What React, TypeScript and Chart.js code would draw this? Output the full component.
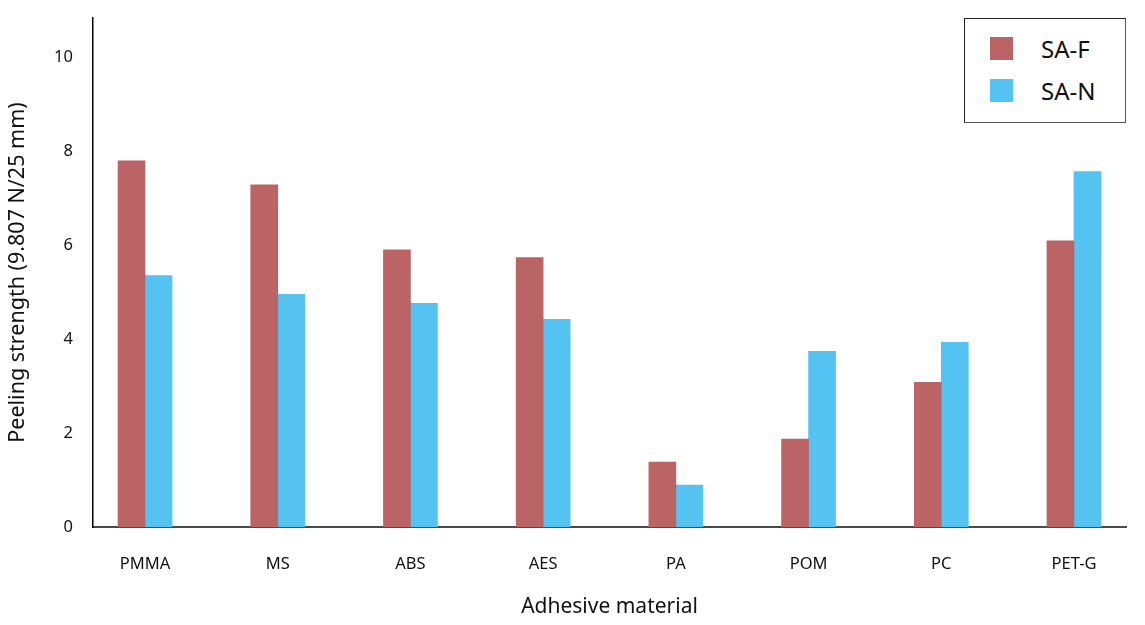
import React, { useEffect, useRef } from 'react';
import Chart from 'chart.js/auto';

const categories = ['PMMA', 'MS', 'ABS', 'AES', 'PA', 'POM', 'PC', 'PET-G'];
const saF = [7.79, 7.28, 5.9, 5.73, 1.38, 1.87, 3.08, 6.09];
const saN = [5.35, 4.95, 4.76, 4.42, 0.89, 3.74, 3.93, 7.56];
const yTicks = [0, 2, 4, 6, 8, 10];

const seriesNames = ['SA-F', 'SA-N'];
const colors = ['#BB6466', '#54C3F1'];
const FONT = '"Noto Sans", "Open Sans", sans-serif';

export default function App(): React.JSX.Element {
  const canvasRef = useRef<HTMLCanvasElement | null>(null);
  const chartRef = useRef<Chart | null>(null);

  useEffect(() => {
    if (!canvasRef.current) return;
    if (chartRef.current) {
      chartRef.current.destroy();
      chartRef.current = null;
    }
    const chart = new Chart(canvasRef.current, {
      type: 'bar',
      data: {
        datasets: [
          {
            label: seriesNames[0],
            data: categories.map((_, i) => ({ x: i, y: saF[i] })),
            backgroundColor: colors[0],
            barThickness: 27,
          },
          {
            label: seriesNames[1],
            data: categories.map((_, i) => ({ x: i, y: saN[i] })),
            backgroundColor: colors[1],
            barThickness: 27,
          },
        ],
      },
      options: {
        animation: false,
        responsive: true,
        maintainAspectRatio: false,
        layout: { padding: { top: 18, right: 19, bottom: 0, left: 0 } },
        plugins: {
          legend: { display: false },
          tooltip: { enabled: false },
        },
        scales: {
          x: {
            type: 'linear',
            offset: false,
            min: -0.392,
            max: 7.392,
            grid: { display: false, drawTicks: false },
            border: { display: true, color: '#4a4a4a', width: 2 },
            afterBuildTicks: (scale: any) => {
              scale.ticks = categories.map((_, i) => ({ value: i }));
            },
            afterFit: (scale: any) => {
              scale.height = 98;
              scale.paddingLeft = 0;
              scale.paddingRight = 0;
            },
            ticks: {
              padding: 27,
              color: '#111',
              font: { family: FONT, size: 16.5 },
              callback: (v: any) => categories[Number(v)] ?? '',
            },
            title: {
              display: true,
              text: 'Adhesive material',
              color: '#111',
              font: { family: FONT, size: 21 },
              padding: { top: 0, bottom: 5 },
            },
          },
          y: {
            min: 0,
            max: 10.83,
            grid: { display: false, drawTicks: false },
            border: { display: true, color: '#000', width: 1.5 },
            afterBuildTicks: (scale: any) => {
              scale.ticks = yTicks.map((v) => ({ value: v }));
            },
            afterFit: (scale: any) => {
              scale.width = 93;
              scale.paddingTop = 0;
              scale.paddingBottom = 0;
            },
            ticks: {
              padding: 20,
              color: '#111',
              font: { family: FONT, size: 16.5 },
            },
            title: {
              display: true,
              text: 'Peeling strength (9.807 N/25 mm)',
              color: '#111',
              font: { family: FONT, size: 21.5 },
              padding: { top: 5, bottom: 0 },
            },
          },
        },
      },
    });
    chartRef.current = chart;
    return () => chart.destroy();
  }, []);

  return (
    <div style={{ position: 'absolute', left: 0, top: 0, width: 1145, height: 625, background: '#fff' }}>
      <canvas ref={canvasRef} />
      <div
        style={{
          position: 'absolute',
          left: 964,
          top: 18,
          width: 160,
          height: 103,
          border: '1.5px solid #222',
          borderRightColor: '#555',
          borderBottomColor: '#555',
          background: '#fff',
          fontFamily: FONT,
          fontSize: 24,
          color: '#111',
        }}
      >
        {seriesNames.map((name, i) => (
          <div
            key={name}
            style={{ position: 'absolute', left: 25, top: 18 + i * 42, height: 23, display: 'flex', alignItems: 'center' }}
          >
            <span style={{ display: 'inline-block', width: 23, height: 23, background: colors[i] }} />
            <span style={{ marginLeft: 28, lineHeight: '23px' }}>{name}</span>
          </div>
        ))}
      </div>
    </div>
  );
}
